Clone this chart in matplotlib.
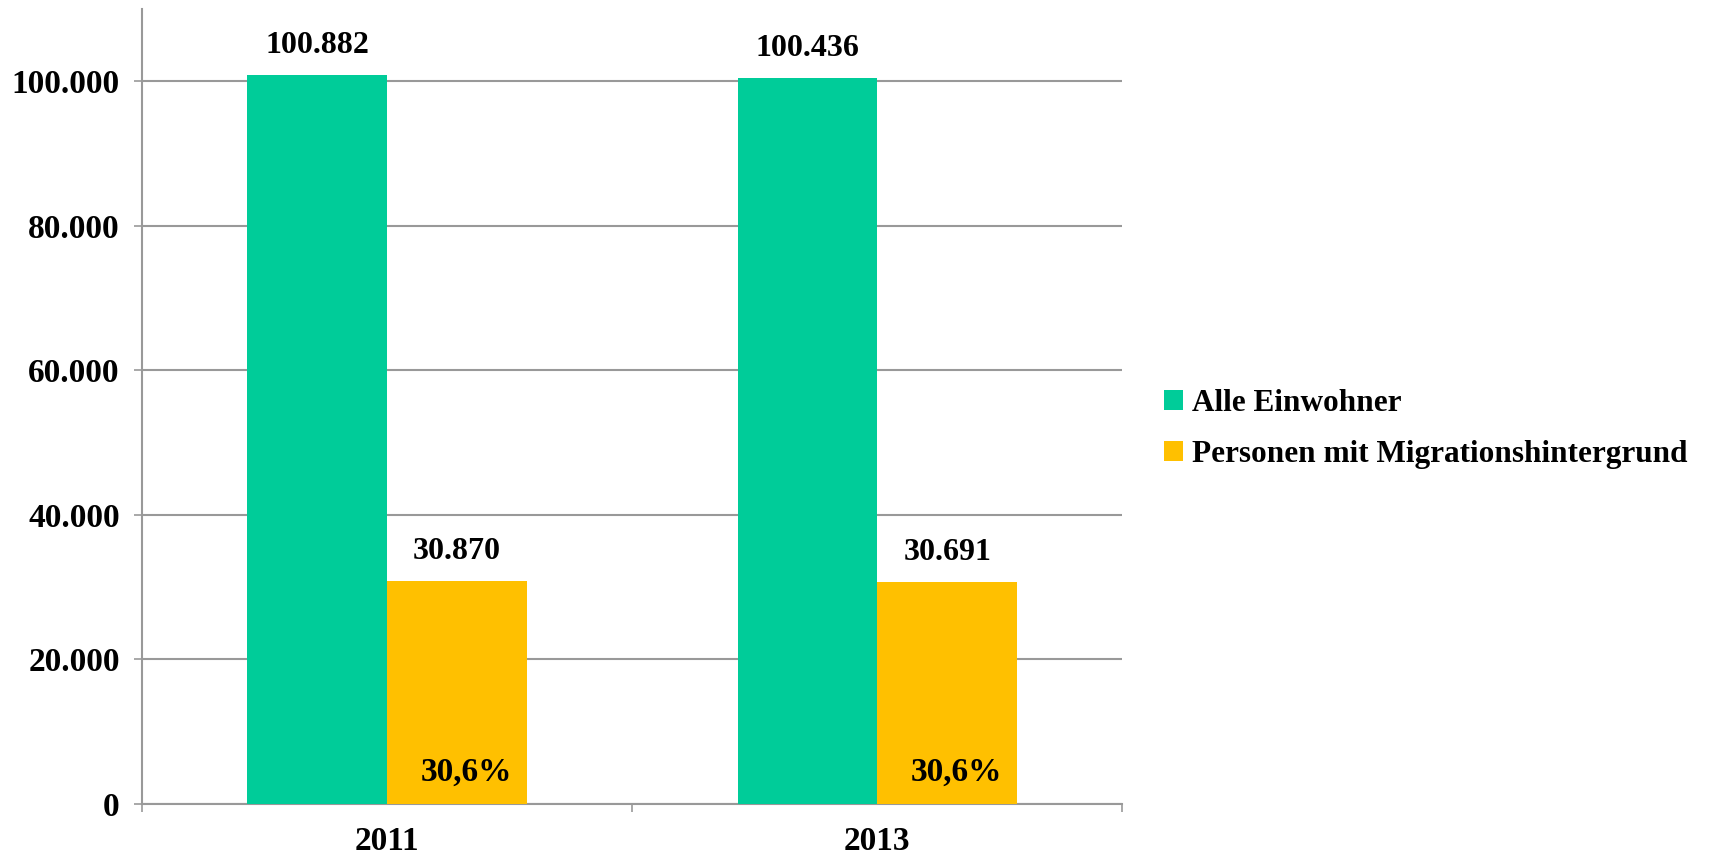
import numpy as np
import matplotlib.pyplot as plt
from matplotlib.ticker import FuncFormatter

# data
years = ['2011', '2013']
alle_einwohner = [100882, 100436]
migration = [30870, 30691]
anteil = ['30,6%', '30,6%']
series_names = ['Alle Einwohner', 'Personen mit Migrationshintergrund']
colors = ['#00CC99', '#FFC000']

plt.rcParams['font.family'] = ['Liberation Serif', 'DejaVu Serif']
plt.rcParams['font.weight'] = 'bold'

fig = plt.figure(figsize=(17.11, 8.58), dpi=100)
ax = fig.add_axes([0.083, 0.063, 0.573, 0.9265])

x = np.arange(len(years))
w = 0.285
b1 = ax.bar(x - w / 2, alle_einwohner, w, color=colors[0], label=series_names[0], zorder=3)
b2 = ax.bar(x + w / 2, migration, w, color=colors[1], label=series_names[1], zorder=3)

def de_fmt(v):
    return f'{v:,.0f}'.replace(',', '.')

for rect, v in zip(list(b1) + list(b2), alle_einwohner + migration):
    ax.annotate(de_fmt(v), (rect.get_x() + rect.get_width() / 2, v),
                xytext=(0, 11), textcoords='offset points',
                ha='center', va='bottom', fontsize=23, fontweight='bold')

for rect, txt in zip(b2, anteil):
    ax.annotate(txt, (rect.get_x() + rect.get_width() / 2, 0),
                xytext=(7, 12), textcoords='offset points',
                ha='center', va='bottom', fontsize=24, fontweight='bold')

ax.set_xlim(-0.5, 1.5)
ax.set_ylim(0, 110000)
ax.set_yticks(np.arange(0, 100001, 20000))
ax.yaxis.set_major_formatter(FuncFormatter(lambda v, p: de_fmt(v)))
ax.set_xticks(x)
ax.set_xticklabels(years)
ax.set_xticks([-0.5, 0.5, 1.5], minor=True)
ax.tick_params(axis='x', which='major', length=0, pad=16, labelsize=24)
ax.tick_params(axis='x', which='minor', length=6, color='#999999', width=1.2)
ax.tick_params(axis='y', length=6, color='#999999', width=1.2, pad=10, labelsize=24)

ax.grid(axis='y', color='#999999', linewidth=1.5, zorder=0)
for s in ['top', 'right']:
    ax.spines[s].set_visible(False)
for s in ['left', 'bottom']:
    ax.spines[s].set_color('#999999')
    ax.spines[s].set_linewidth(1.5)

fig.legend(loc='center left', bbox_to_anchor=(0.664, 0.5), frameon=False,
           fontsize=22.5, handlelength=0.6, handleheight=0.6, handletextpad=0.3,
           labelspacing=0.7)

fig.savefig('out.png', dpi=100)
